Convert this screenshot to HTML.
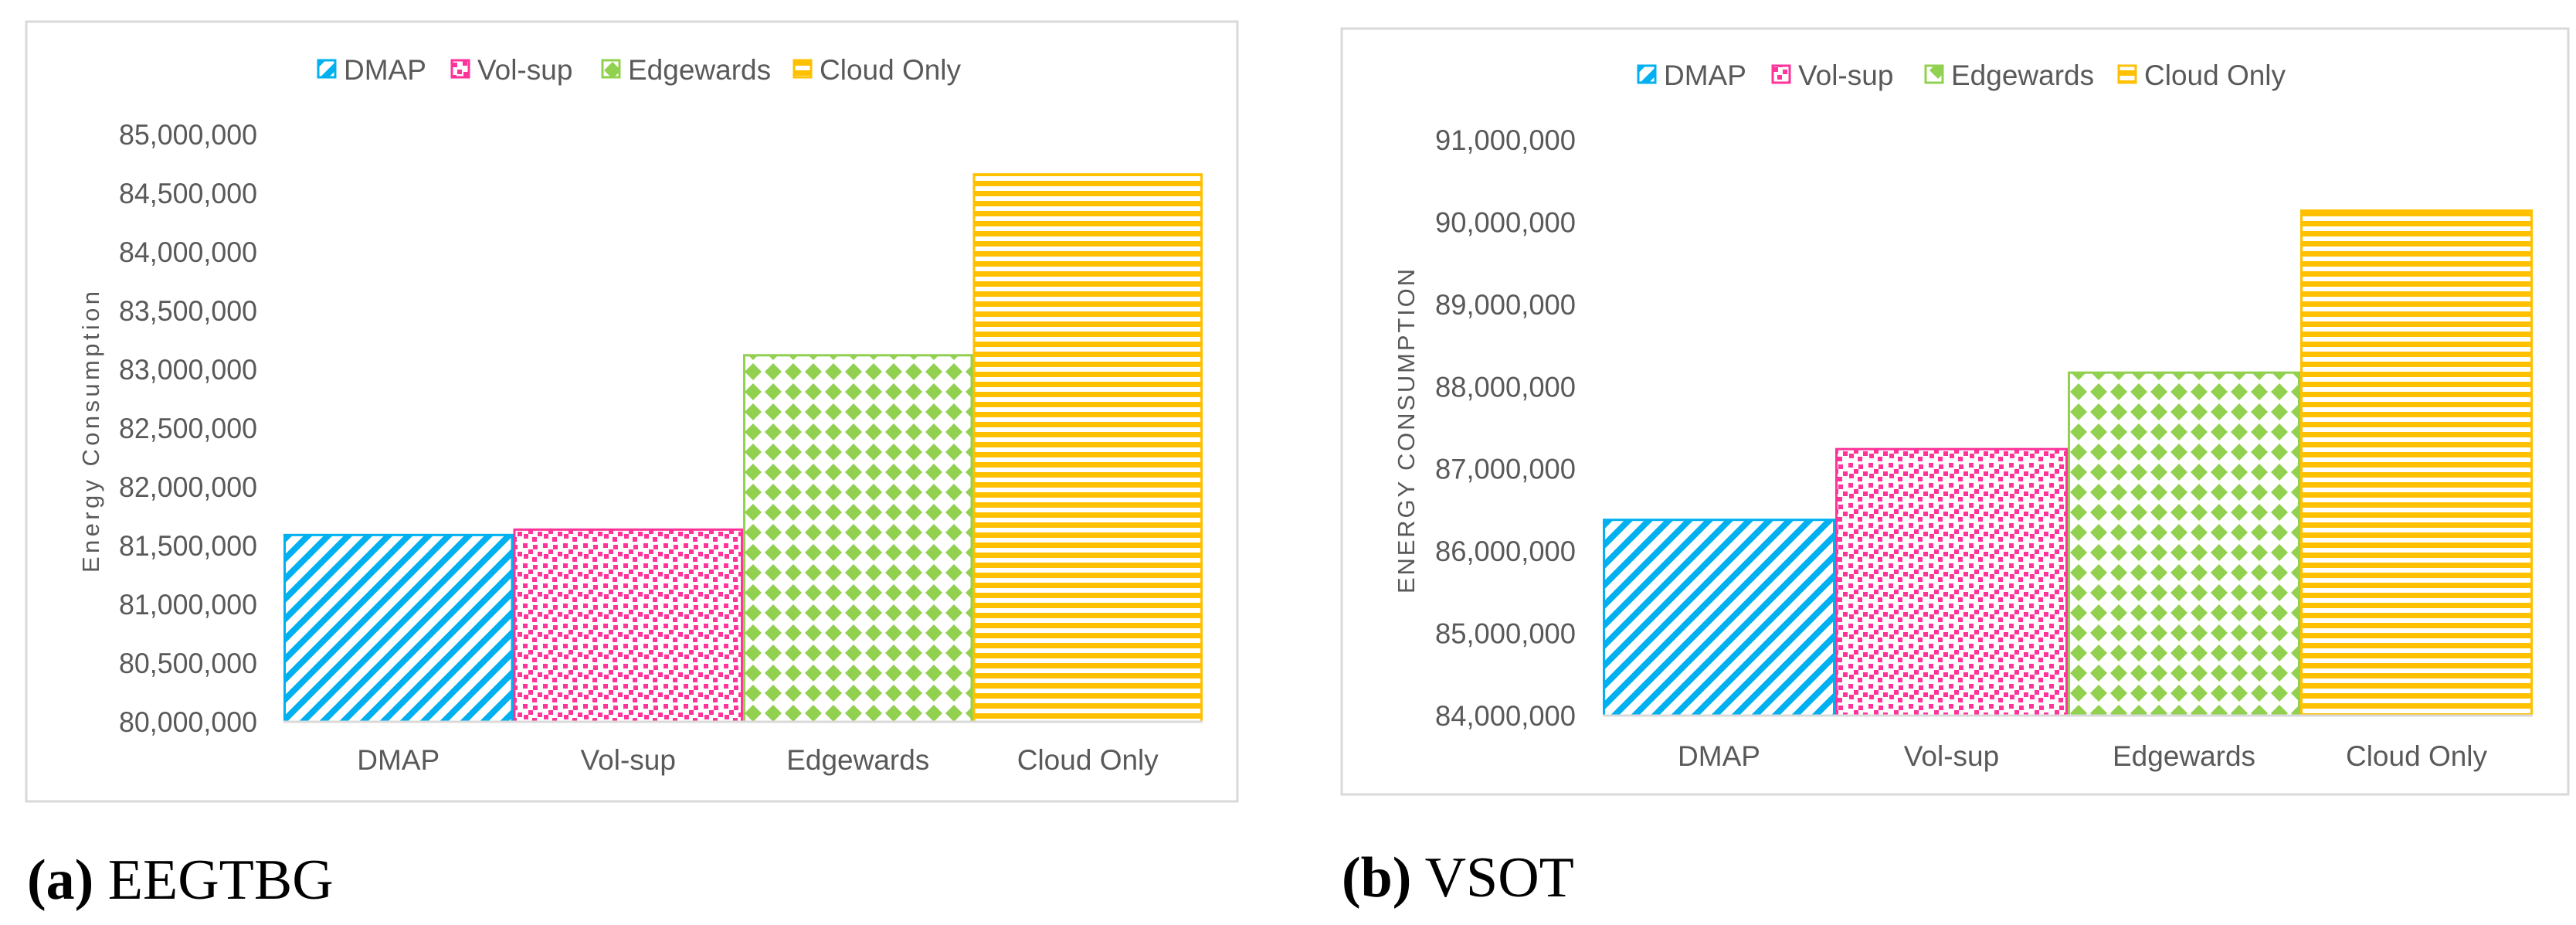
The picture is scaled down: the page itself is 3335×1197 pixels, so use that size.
<!DOCTYPE html>
<html><head><meta charset="utf-8">
<style>
html,body{margin:0;padding:0;background:#fff;}
svg{display:block;}
text{font-family:"Liberation Sans",sans-serif;fill:#595959;}
</style></head>
<body>
<svg id="fig" width="3335" height="1197" viewBox="0 0 3335 1197" xmlns="http://www.w3.org/2000/svg">
<defs>
  <pattern id="pDiag" patternUnits="userSpaceOnUse" width="26" height="26">
    <rect width="26" height="26" fill="#fff"/>
    <path d="M-6,32 L32,-6 M-19,19 L19,-19 M7,45 L45,7" stroke="#00B0F0" stroke-width="8"/>
  </pattern>
  <pattern id="pDots" patternUnits="userSpaceOnUse" width="26" height="26">
    <rect width="26" height="26" fill="#fff"/>
    <rect x="1" y="1" width="6" height="6" fill="#FF3399"/>
    <rect x="14" y="3" width="6" height="6" fill="#FF3399"/>
    <rect x="8" y="9" width="6" height="6" fill="#FF3399"/>
    <rect x="20" y="12" width="6" height="6" fill="#FF3399"/>
    <rect x="2" y="15" width="6" height="6" fill="#FF3399"/>
    <rect x="13" y="19" width="6" height="6" fill="#FF3399"/>
  </pattern>
  <pattern id="pDiam" patternUnits="userSpaceOnUse" width="26" height="26">
    <rect width="26" height="26" fill="#fff"/>
    <polygon points="13,2 24,13 13,24 2,13" fill="#92D050"/>
  </pattern>
  <pattern id="pHorz" patternUnits="userSpaceOnUse" width="26" height="13">
    <rect width="26" height="13" fill="#fff"/>
    <rect y="0" width="26" height="7" fill="#FFC000"/>
  </pattern>
</defs>
<g id="chartA"></g>
<g id="chartB"></g>
<text x="35" y="1163" style="font-family:'Liberation Serif',serif;font-size:74px;fill:#000"><tspan font-weight="bold">(a)</tspan> EEGTBG</text>
<text x="1737" y="1160" style="font-family:'Liberation Serif',serif;font-size:74px;fill:#000"><tspan font-weight="bold">(b)</tspan> VSOT</text>
</svg>
<script>
const categories = ["DMAP", "Vol-sup", "Edgewards", "Cloud Only"];
const valuesA = [81590000, 81636000, 83120000, 84660000];
const ticksA = [80000000, 80500000, 81000000, 81500000, 82000000, 82500000, 83000000, 83500000, 84000000, 84500000, 85000000];
const valuesB = [86380000, 87240000, 88170000, 90140000];
const ticksB = [84000000, 85000000, 86000000, 87000000, 88000000, 89000000, 90000000, 91000000];

const NS = "http://www.w3.org/2000/svg";
const fills = ["url(#pDiag)", "url(#pDots)", "url(#pDiam)", "url(#pHorz)"];
const strokes = ["#00B0F0", "#FF3399", "#92D050", "#FFC000"];
function mk(tag, attrs, parent) {
  const e = document.createElementNS(NS, tag);
  for (const k in attrs) e.setAttribute(k, attrs[k]);
  parent.appendChild(e);
  return e;
}
function fmt(v) { return v.toLocaleString("en-US"); }

function drawChart(g, cfg, values, ticks) {
  const box = mk("rect", {x: cfg.bx, y: cfg.by, width: cfg.bw, height: cfg.bh, fill: "#fff", stroke: "#D9D9D9", "stroke-width": 3}, g);
  
  
  const y0 = ticks[0], y1 = ticks[ticks.length - 1];
  const yScale = v => cfg.baseY - (v - y0) / (y1 - y0) * (cfg.baseY - cfg.topY);
  const bw = (cfg.x1 - cfg.x0) / categories.length;
  const xScale = i => cfg.x0 + i * bw;
  ticks.forEach(t => {
    const tl = mk("text", {x: cfg.tickR, y: yScale(t) + 13, "text-anchor": "end", "font-size": 37, textLength: cfg.tickW, lengthAdjust: "spacingAndGlyphs"}, g);
    tl.textContent = fmt(t);
    
    
  });
  values.forEach((v, i) => {
    const r = mk("rect", {x: xScale(i) + 1.5, y: yScale(v), width: bw - 3, height: cfg.baseY - yScale(v), fill: fills[i], stroke: strokes[i], "stroke-width": 3}, g);
    
    
    const cl = mk("text", {x: xScale(i) + bw / 2, y: cfg.catY, "text-anchor": "middle", "font-size": 37}, g);
    cl.textContent = categories[i];
    
    
  });
  const ax = mk("line", {x1: cfg.x0, x2: cfg.x1, y1: cfg.baseY, y2: cfg.baseY, stroke: "#D9D9D9", "stroke-width": 3}, g);
  
  
  const yt = mk("text", {x: cfg.titleX, y: cfg.titleY, "text-anchor": "middle", "font-size": 31, transform: "rotate(-90 " + cfg.titleX + " " + cfg.titleY + ")", textLength: cfg.titleLen, lengthAdjust: "spacing"}, g);
  yt.textContent = cfg.title;
  
  
  categories.forEach((c, i) => {
    const sw = mk("rect", {x: cfg.legIcon[i], y: cfg.legY - 12, width: 22, height: 22, fill: fills[i], stroke: strokes[i], "stroke-width": 3}, g);
    
    
    const lt = mk("text", {x: cfg.legIcon[i] + 33, y: cfg.legY + 13, "font-size": 37}, g);
    lt.textContent = c;
    
    
  });
}

drawChart(document.getElementById("chartA"), {
  bx: 34, by: 28, bw: 1568, bh: 1009, x0: 367, x1: 1557, baseY: 934, topY: 174,
  tickR: 333, tickW: 179, catY: 996, titleX: 128, titleY: 559, titleLen: 364,
  title: "Energy Consumption", legY: 90, legIcon: [412, 585, 780, 1028]
}, valuesA, ticksA);

drawChart(document.getElementById("chartB"), {
  bx: 1737, by: 37, bw: 1588, bh: 991, x0: 2075, x1: 3279, baseY: 926, topY: 181,
  tickR: 2040, tickW: 182, catY: 991, titleX: 1831, titleY: 558, titleLen: 420,
  title: "ENERGY  CONSUMPTION", legY: 97, legIcon: [2121, 2295, 2493, 2743]
}, valuesB, ticksB);
</script>
</body></html>
